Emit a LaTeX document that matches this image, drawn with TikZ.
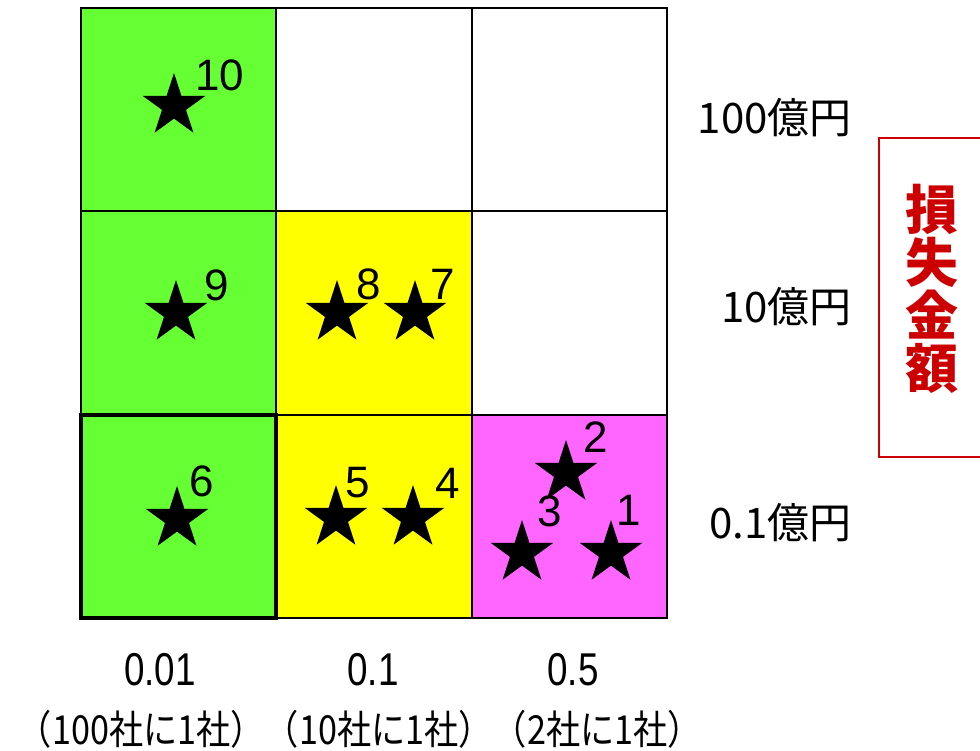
\documentclass[tikz,border=0pt]{standalone}
\usepackage{fontspec}
\usepackage{graphicx}
\setmainfont{Noto Sans CJK JP}
\newfontfamily\numfont{Liberation Sans}
\usetikzlibrary{shapes.geometric}
\definecolor{cgreen}{RGB}{102,255,51}
\definecolor{cyellow}{RGB}{255,255,0}
\definecolor{cpink}{RGB}{255,102,255}
\definecolor{cred}{RGB}{204,0,0}
\tikzset{
  starmark/.style={star, star points=5, star point ratio=2.618, minimum size=66pt, inner sep=0pt, fill=black, draw=none},
  numlabel/.style={inner sep=0pt, font=\numfont\fontsize{44}{44}\selectfont},
  ylabel/.style={inner sep=0pt, anchor=east, font=\fontsize{42}{42}\selectfont},
  xlabel/.style={inner sep=0pt, font=\numfont\fontsize{46}{46}\selectfont},
  xsublabel/.style={inner sep=0pt, font=\fontsize{40}{40}\selectfont},
  gridline/.style={line width=2pt, draw=black},
}
\begin{document}
\begin{tikzpicture}[x=1pt,y=-1pt]
\useasboundingbox (0,0) rectangle (980,751);
% cell fills
\fill[cgreen] (81,8) rectangle (276,618);
\fill[cyellow] (276,211) rectangle (472,618);
\fill[cpink] (472,415) rectangle (667,618);
% grid
\draw[gridline] (81,8) rectangle (667,618);
\draw[gridline] (276,8) -- (276,618);
\draw[gridline] (472,8) -- (472,618);
\draw[gridline] (81,211) -- (667,211);
\draw[gridline] (81,415) -- (667,415);
\draw[line width=3.5pt] (81,415) rectangle (276,618);
% stars
\node[starmark] (s10) at (174,106) {};
\node[starmark] (s9) at (176,313) {};
\node[starmark] (s8) at (337,313) {};
\node[starmark] (s7) at (415,313) {};
\node[starmark] (s6) at (177,519) {};
\node[starmark] (s5) at (336,518) {};
\node[starmark] (s4) at (413,518) {};
\node[starmark] (s2) at (566,473) {};
\node[starmark] (s3) at (522,553) {};
\node[starmark] (s1) at (611,553) {};
% star labels
\node[numlabel] (l10) at (220,75) {10};
\node[numlabel] (l9) at (217,285) {9};
\node[numlabel] (l8) at (369,284) {8};
\node[numlabel] (l7) at (443,284) {7};
\node[numlabel] (l6) at (202,481) {6};
\node[numlabel] (l5) at (358,483) {5};
\node[numlabel] (l4) at (448,483) {4};
\node[numlabel] (l2) at (596,437) {2};
\node[numlabel] (l3) at (550,511) {3};
\node[numlabel] (l1) at (629,510) {1};
% y labels
\node[ylabel] (y100) at (852,118) {100億円};
\node[ylabel] (y10) at (852,307) {10億円};
\node[ylabel] (y01) at (852,523) {0.1億円};
% red box
\draw[cred, line width=1.5pt] (1000,138) -- (879,138) -- (879,457) -- (1000,457);
\node[inner sep=0pt, align=center, text=cred, font=\fontsize{53}{53}\selectfont\bfseries] (axis) at (932,289) {損\\失\\金\\額};
% x labels
\node[xlabel] (x1) at (160,670) {\scalebox{0.8}[1]{0.01}};
\node[xlabel] (x2) at (373,670) {\scalebox{0.8}[1]{0.1}};
\node[xlabel] (x3) at (573,670) {\scalebox{0.8}[1]{0.5}};
\node[xsublabel] (xsub) at (360,729) {\resizebox{684pt}{\height}{（100社に1社）（10社に1社）（2社に1社）}};
\end{tikzpicture}
\end{document}
